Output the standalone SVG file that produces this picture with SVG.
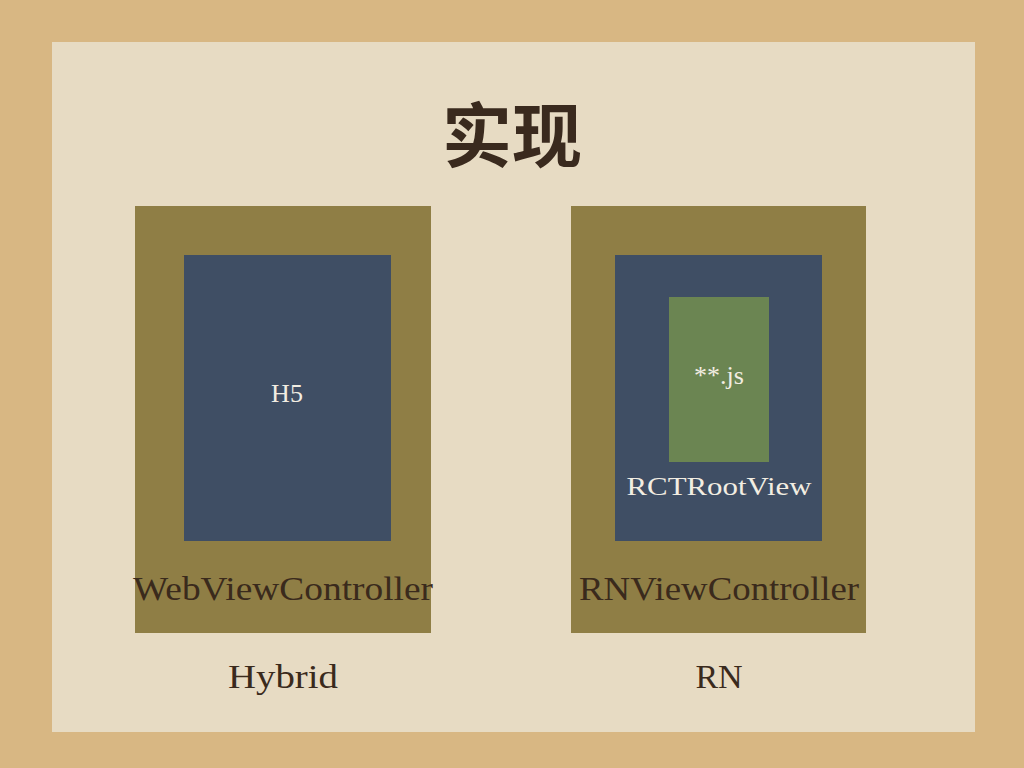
<svg xmlns="http://www.w3.org/2000/svg" width="1024" height="768" viewBox="0 0 1024 768">
<style>
.olive{fill:#8f7e45}
.blue{fill:#3f4e64}
.green{fill:#6b8552}
.lbl{font-family:"Liberation Serif",serif;fill:#3a2a1c}
.wl{font-family:"Liberation Serif",serif;fill:#f2ede2}
</style>
<rect width="1024" height="768" fill="#d8b783"/>
<rect x="52" y="42" width="923" height="690" fill="#e7dbc3"/>
<text x="512" y="162" text-anchor="middle" font-size="70" font-weight="bold" font-family="'Noto Sans CJK SC',sans-serif" fill="#3a2a1e">实现</text>
<g id="webviewcontroller">
<rect class="olive" x="135" y="206" width="296" height="427"/>
<text class="lbl" x="283" y="600" text-anchor="middle" font-size="34" textLength="300" lengthAdjust="spacingAndGlyphs">WebViewController</text>
</g>
<g id="h5">
<rect class="blue" x="184" y="255" width="207" height="286"/>
<text class="wl" x="287" y="402" text-anchor="middle" font-size="26">H5</text>
</g>
<g id="rnviewcontroller">
<rect class="olive" x="571" y="206" width="295" height="427"/>
<text class="lbl" x="719" y="600" text-anchor="middle" font-size="34" textLength="280" lengthAdjust="spacingAndGlyphs">RNViewController</text>
</g>
<g id="rctrootview">
<rect class="blue" x="615" y="255" width="207" height="286"/>
<text class="wl" x="719" y="495" text-anchor="middle" font-size="26" textLength="185" lengthAdjust="spacingAndGlyphs">RCTRootView</text>
</g>
<g id="js">
<rect class="green" x="669" y="297" width="100" height="165"/>
<text class="wl" x="719" y="384" text-anchor="middle" font-size="26">**.js</text>
</g>
<g id="connectors"/>
<text class="lbl" x="283" y="688" text-anchor="middle" font-size="34" textLength="110" lengthAdjust="spacingAndGlyphs">Hybrid</text>
<text class="lbl" x="719" y="688" text-anchor="middle" font-size="34">RN</text>
</svg>
